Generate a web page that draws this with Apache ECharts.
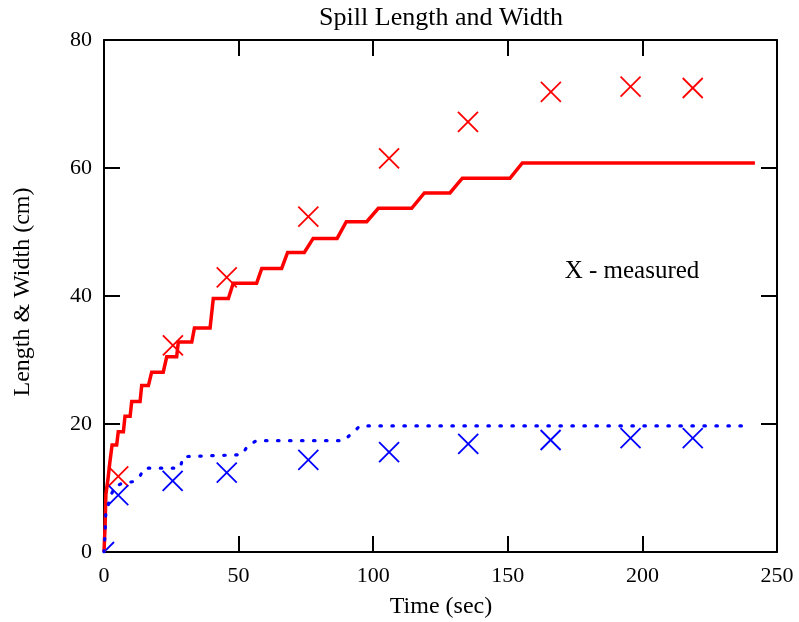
<!DOCTYPE html>
<html>
<head>
<meta charset="utf-8">
<script src="https://cdn.jsdelivr.net/npm/echarts@6/dist/echarts.min.js"></script>
<style>
html,body{margin:0;padding:0;background:#fff;}
#chart{width:799px;height:622px;}
</style>
</head>
<body>
<div id="chart"></div>
<script>
// Data (time in sec, value in cm)
const titleText = 'Spill Length and Width';
const xAxisName = 'Time (sec)';
const yAxisName = 'Length & Width (cm)';
const noteText = 'X - measured';
const xTicks = [0, 50, 100, 150, 200, 250];
const yTicks = [0, 20, 40, 60, 80];

const lengthCurve = [
  [0,0],[0.4,4],[0.7,9],[1.5,11.5],[2.2,14.1],[2.6,14.1],[3.0,16.7],[4.7,16.7],
  [5.3,18.8],[7.2,18.8],[7.8,21.2],[9.7,21.2],[10.3,23.5],[13.4,23.5],[14.0,26.0],
  [16.5,26.0],[17.7,28.1],[22.0,28.1],[23.3,30.5],[27.0,30.5],[27.6,32.8],[32.6,32.8],
  [33.6,35.0],[39.4,35.0],[40.6,39.6],[46.2,39.6],[48.0,42.0],[56.7,42.0],[58.6,44.3],
  [66.0,44.3],[68.2,46.8],[74.4,46.8],[77.7,49.0],[86.6,49.0],[90.0,51.6],[97.6,51.6],
  [101.9,53.7],[114.3,53.7],[119.0,56.1],[128.5,56.1],[133.1,58.4],[150.8,58.4],
  [155.4,60.8],[241.8,60.8]
];
const widthCurve = [
  [0,0],[0.4,3],[0.7,6.5],[1.5,7.3],[2.5,8.8],[4.0,10.2],[6.6,10.7],[10.9,11.0],
  [13.4,11.9],[15.0,13.1],[28.2,13.1],[29.5,14.9],[51.2,15.2],[53.4,16.6],[56.7,17.4],
  [89.0,17.4],[92.0,18.5],[95.1,19.7],[238.0,19.7]
];
const lengthMeasured = [
  [5.3,11.8],[25.6,32.3],[45.6,42.9],[75.9,52.4],[105.9,61.5],[135.2,67.2],
  [166.0,71.9],[195.6,72.7],[218.7,72.5]
];
const widthMeasured = [
  [0,0],[5.3,8.9],[25.5,11.1],[45.6,12.4],[75.9,14.4],[105.9,15.6],[135.3,16.9],
  [165.9,17.5],[195.6,17.8],[218.7,17.8]
];

const FONT = '"Liberation Serif", "Times New Roman", serif';
const chart = echarts.init(document.getElementById('chart'), null, {renderer: 'canvas'});

const axisLineStyle = {color: '#000', width: 2};
const tickStyle = {color: '#000', width: 2};
function xAxisCfg(pos, showLabel) {
  return {
    type: 'value', position: pos, min: xTicks[0], max: xTicks[xTicks.length-1],
    interval: xTicks[1]-xTicks[0],
    axisLine: {show: true, onZero: false, lineStyle: axisLineStyle},
    axisTick: {show: true, inside: true, length: 16, lineStyle: tickStyle},
    axisLabel: {show: showLabel, margin: 13, fontFamily: FONT, fontSize: 22, color: '#000'},
    splitLine: {show: false}
  };
}
function yAxisCfg(pos, showLabel) {
  return {
    type: 'value', position: pos, min: yTicks[0], max: yTicks[yTicks.length-1],
    interval: yTicks[1]-yTicks[0],
    axisLine: {show: true, onZero: false, lineStyle: axisLineStyle},
    axisTick: {show: true, inside: true, length: 16, lineStyle: tickStyle},
    axisLabel: {show: showLabel, margin: 12, fontFamily: FONT, fontSize: 22, color: '#000'},
    splitLine: {show: false}
  };
}
function crossMarker(color) {
  return function (params, api) {
    const p = api.coord([api.value(0), api.value(1)]);
    const s = 10;
    const st = {stroke: color, lineWidth: 1.8, fill: null};
    return {
      type: 'group',
      children: [
        {type: 'line', shape: {x1: p[0]-s, y1: p[1]-s, x2: p[0]+s, y2: p[1]+s}, style: st},
        {type: 'line', shape: {x1: p[0]-s, y1: p[1]+s, x2: p[0]+s, y2: p[1]-s}, style: st}
      ]
    };
  };
}

chart.setOption({
  animation: false,
  backgroundColor: '#fff',
  grid: {left: 104, right: 22, top: 40, bottom: 70, containLabel: false},
  xAxis: [xAxisCfg('bottom', true), xAxisCfg('top', false)],
  yAxis: [yAxisCfg('left', true), yAxisCfg('right', false)],
  graphic: [
    {type: 'text', x: 441, y: 18, style: {text: titleText, font: '26px ' + FONT, fill: '#000', align: 'center', verticalAlign: 'middle'}},
    {type: 'text', x: 441, y: 607, style: {text: xAxisName, font: '24px ' + FONT, fill: '#000', align: 'center', verticalAlign: 'middle'}},
    {type: 'text', x: 23, y: 292, rotation: Math.PI/2, style: {text: yAxisName, font: '24px ' + FONT, fill: '#000', align: 'center', verticalAlign: 'middle'}},
    {type: 'text', x: 632, y: 271, style: {text: noteText, font: '25px ' + FONT, fill: '#000', align: 'center', verticalAlign: 'middle'}}
  ],
  series: [
    {type: 'line', data: lengthCurve, showSymbol: false, clip: true,
     lineStyle: {color: '#ff0000', width: 3.5, join: 'miter'}},
    {type: 'custom', data: lengthMeasured, renderItem: crossMarker('#ff0000'), clip: true,
     encode: {x: 0, y: 1}},
    {type: 'line', data: widthCurve, showSymbol: false, clip: true,
     lineStyle: {color: '#0000ff', width: 3.2, type: [1.5, 10.5], cap: 'round'}},
    {type: 'custom', data: widthMeasured, renderItem: crossMarker('#0000ff'), clip: true,
     encode: {x: 0, y: 1}}
  ]
});
</script>
</body>
</html>
